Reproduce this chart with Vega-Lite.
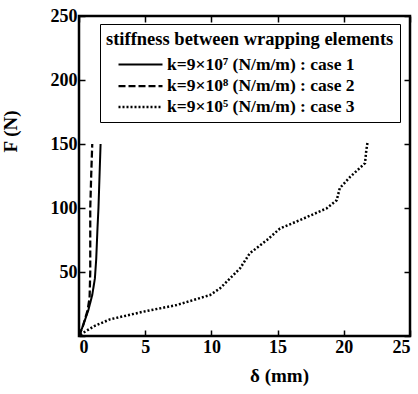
{
  "$schema": "https://vega.github.io/schema/vega-lite/v6.json",
  "width": 331,
  "height": 320,
  "autosize": {"type": "none"},
  "padding": {"left": 79, "top": 16, "right": 8, "bottom": 58},
  "background": "white",
  "config": {
    "view": {"stroke": "black", "strokeWidth": 2.5},
    "font": "Liberation Serif",
    "axis": {"domain": false, "grid": false, "tickColor": "black", "tickWidth": 1.5, "tickSize": -6, "labelFont": "Liberation Serif", "labelFontWeight": "bold", "labelFontSize": 18, "labelColor": "black", "titleFont": "Liberation Serif", "titleColor": "black"}
  },
  "data": {"values": [
    {"s": "case1", "d": 0, "F": 0},
    {"s": "case1", "d": 0.3, "F": 8},
    {"s": "case1", "d": 0.7, "F": 20},
    {"s": "case1", "d": 1.0, "F": 32},
    {"s": "case1", "d": 1.2, "F": 45},
    {"s": "case1", "d": 1.3, "F": 60},
    {"s": "case1", "d": 1.4, "F": 85},
    {"s": "case1", "d": 1.47, "F": 100},
    {"s": "case1", "d": 1.55, "F": 125},
    {"s": "case1", "d": 1.63, "F": 150},
    {"s": "case2", "d": 0, "F": 0},
    {"s": "case2", "d": 0.3, "F": 8},
    {"s": "case2", "d": 0.65, "F": 20},
    {"s": "case2", "d": 0.8, "F": 30},
    {"s": "case2", "d": 0.85, "F": 50},
    {"s": "case2", "d": 0.85, "F": 100},
    {"s": "case2", "d": 0.92, "F": 125},
    {"s": "case2", "d": 1.0, "F": 150},
    {"s": "case3", "d": 0.1, "F": 1},
    {"s": "case3", "d": 0.33, "F": 2.6},
    {"s": "case3", "d": 1.2, "F": 8},
    {"s": "case3", "d": 2.34, "F": 13},
    {"s": "case3", "d": 4.86, "F": 19},
    {"s": "case3", "d": 7.38, "F": 24.2},
    {"s": "case3", "d": 9.9, "F": 32},
    {"s": "case3", "d": 10.65, "F": 37.2},
    {"s": "case3", "d": 12.16, "F": 52.8},
    {"s": "case3", "d": 12.9, "F": 64.6},
    {"s": "case3", "d": 14.2, "F": 75},
    {"s": "case3", "d": 15.18, "F": 84},
    {"s": "case3", "d": 16.7, "F": 90.6},
    {"s": "case3", "d": 18.7, "F": 99.7},
    {"s": "case3", "d": 19.46, "F": 106},
    {"s": "case3", "d": 19.7, "F": 115.6},
    {"s": "case3", "d": 20.5, "F": 124.5},
    {"s": "case3", "d": 21.6, "F": 135},
    {"s": "case3", "d": 21.7, "F": 145},
    {"s": "case3", "d": 21.8, "F": 151.8}
  ]},
  "layer": [
    {
      "mark": {"type": "line", "color": "black", "clip": true},
      "encoding": {
        "x": {"field": "d", "type": "quantitative", "scale": {"domain": [0, 25], "nice": false}, "axis": {"values": [0, 5, 10, 15, 20, 25], "title": "δ   (mm)", "titleFontSize": 19, "titleFontWeight": "bold", "titleX": 200, "titleY": 30, "labelPadding": 8}},
        "y": {"field": "F", "type": "quantitative", "scale": {"domain": [0, 250], "nice": false}, "axis": {"values": [0, 50, 100, 150, 200, 250], "labelExpr": "datum.value == 0 ? '' : datum.label", "title": "F  (N)", "titleFontSize": 19, "titleFontWeight": "bold", "titleX": -59, "titleY": 115, "labelPadding": 8}},
        "detail": {"field": "s"},
        "strokeDash": {"field": "s", "type": "nominal", "scale": {"domain": ["case1", "case2", "case3"], "range": [[1, 0], [7, 3], [2, 2]]},
          "legend": {"orient": "none", "legendX": 21, "legendY": 8, "title": "stiffness between wrapping elements", "titleFont": "Liberation Serif", "titleFontSize": 18.5, "titleFontWeight": "bold", "titleColor": "black", "titleLimit": 400, "labelLimit": 400, "labelFont": "Liberation Serif", "labelFontSize": 17.5, "labelFontWeight": "bold", "labelColor": "black", "labelExpr": "datum.value == 'case1' ? 'k=9×10⁷ (N/m/m) : case 1' : datum.value == 'case2' ? 'k=9×10⁸ (N/m/m) : case 2' : 'k=9×10⁵ (N/m/m) : case 3'", "strokeColor": "black", "padding": 6, "symbolType": "M-2,0H2", "symbolSize": 484, "symbolOffset": 22, "symbolStrokeColor": "black", "symbolStrokeWidth": 1.6, "rowPadding": -3, "titlePadding": 4, "labelOffset": 14, "offset": 0}},
        "strokeWidth": {"field": "s", "type": "ordinal", "scale": {"domain": ["case1", "case2", "case3"], "range": [2, 2.5, 1]}, "legend": null}
      }
    },
    {
      "mark": {"type": "point", "opacity": 0},
      "data": {"values": [{"d": 0, "F": 0}]},
      "encoding": {
        "x": {"field": "d", "type": "quantitative", "scale": {"domain": [0, 25], "nice": false}, "axis": {"orient": "top", "values": [0, 5, 10, 15, 20, 25], "labels": false, "title": null}},
        "y": {"field": "F", "type": "quantitative", "scale": {"domain": [0, 250], "nice": false}, "axis": {"orient": "right", "values": [0, 50, 100, 150, 200, 250], "labels": false, "title": null}}
      }
    }
  ],
  "resolve": {"axis": {"x": "independent", "y": "independent"}}
}
